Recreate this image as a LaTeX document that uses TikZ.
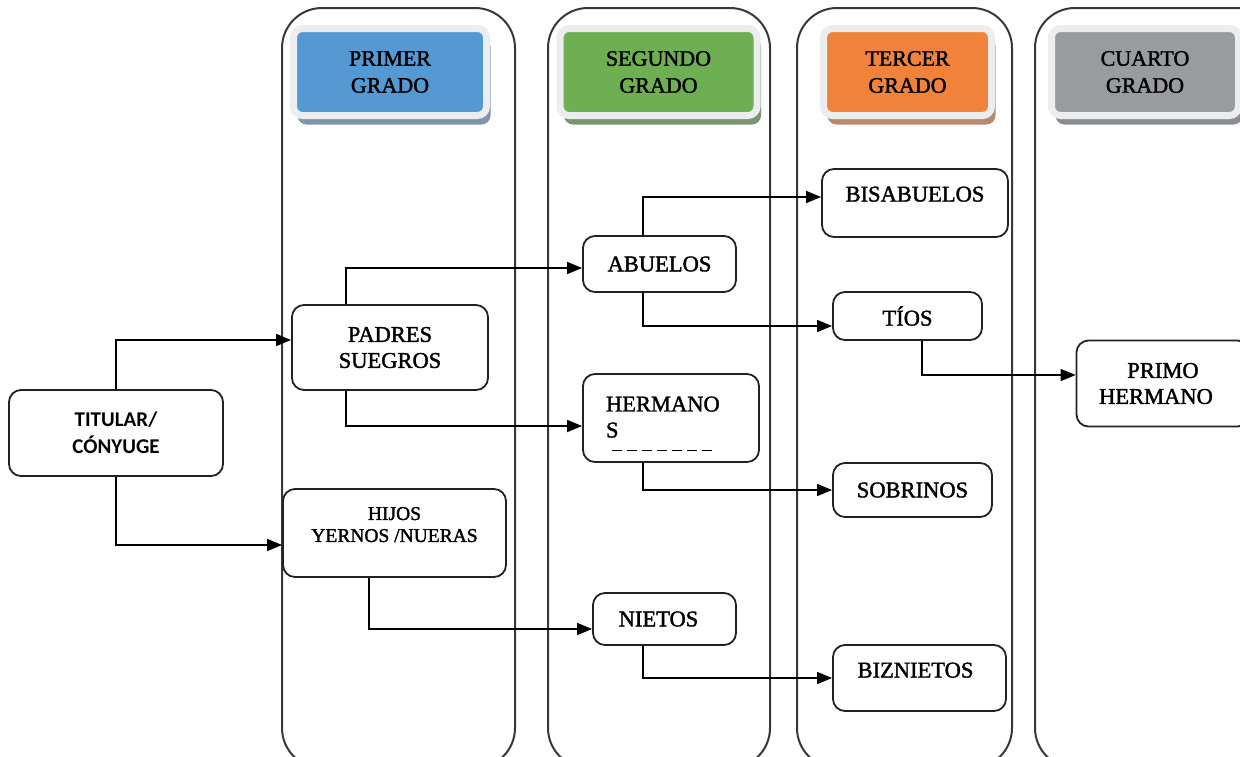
\documentclass[tikz,border=0pt]{standalone}
\usepackage{fontspec}
\setmainfont{Liberation Serif}
\newfontfamily\heavyserif{Liberation Serif}[FakeBold=1.6]
\newfontfamily\carlito{Carlito}
\usetikzlibrary{arrows.meta,shadows,calc}
\definecolor{hblue}{HTML}{5499D3}
\definecolor{hgreen}{HTML}{6DAF52}
\definecolor{horange}{HTML}{F0823C}
\definecolor{hgray}{HTML}{999B9E}
\definecolor{sblue}{HTML}{8294AA}
\definecolor{sgreen}{HTML}{7C9470}
\definecolor{sorange}{HTML}{B88A6E}
\definecolor{sgray}{HTML}{8C8D90}
\definecolor{hframe}{HTML}{ECEDEF}
\definecolor{ink}{HTML}{222222}
\begin{document}
\begin{tikzpicture}[x=1pt,y=-1pt,
  col/.style={draw=ink!90, line width=2pt, rounded corners=40pt},
  hdr/.style={draw=hframe, line width=7pt, rounded corners=9pt, minimum width=193pt, minimum height=87pt,
    align=center, inner sep=0pt, font=\heavyserif\fontsize{22}{27}\selectfont},
  box/.style={draw=ink, line width=1.8pt, rounded corners=12pt, fill=white, align=center,
    inner sep=0pt, font=\heavyserif\fontsize{22.5}{26}\selectfont},
  arr/.style={line width=1.5pt, draw=black, -{Triangle[length=15pt,width=12pt]}}]
\useasboundingbox (0,0) rectangle (1240,756);
\clip (0,0) rectangle (1240,756);
% columns
\draw[col] (282,8) rectangle (515,768);
\draw[col] (548,8) rectangle (770,768);
\draw[col] (797,8) rectangle (1012,768);
\draw[col] (1035,8) rectangle (1290,768);
% headers
\node[hdr, fill=hblue, drop shadow={opacity=1, fill=sblue, shadow xshift=4pt, shadow yshift=-9pt}] (h1) at (390,72) {PRIMER\\GRADO};
\node[hdr, fill=hgreen, minimum width=197pt, drop shadow={opacity=1, fill=sgreen, shadow xshift=4pt, shadow yshift=-9pt}] (h2) at (658.5,72) {SEGUNDO\\GRADO};
\node[hdr, fill=horange, minimum width=168pt, drop shadow={opacity=1, fill=sorange, shadow xshift=4pt, shadow yshift=-9pt}] (h3) at (907.5,72) {TERCER\\GRADO};
\node[hdr, fill=hgray, minimum width=187pt, drop shadow={opacity=1, fill=sgray, shadow xshift=4pt, shadow yshift=-9pt}] (h4) at (1145,72) {CUARTO\\GRADO};
% boxes
\node[box, font=\carlito\bfseries\fontsize{21}{27}\selectfont, minimum width=214pt, minimum height=86pt] (tit) at (116,433) {TITULAR/\\CÓNYUGE};
\node[box, minimum width=196pt, minimum height=85pt] (pad) at (390,347.5) {PADRES\\SUEGROS};
\node[box, font=\heavyserif\fontsize{19.5}{22}\selectfont, minimum width=223pt, minimum height=88pt, text depth=17pt] (hij) at (394.5,533) {HIJOS\\YERNOS /NUERAS};
\node[box, minimum width=153pt, minimum height=56pt] (abu) at (659.5,264) {ABUELOS};
\node[box, minimum width=176pt, minimum height=88pt, text width=130pt, align=left, text depth=28pt] (her) at (671,418) {HERMANO\\S};
\node[box, minimum width=143pt, minimum height=52pt] (nie) at (664.5,619) {NIETOS\hspace*{12pt}};
\node[box, minimum width=186pt, minimum height=68pt, text height=16pt, text depth=19pt] (bis) at (915,203) {BISABUELOS};
\node[box, minimum width=149pt, minimum height=48pt] (tio) at (907.5,316) {TÍOS};
\node[box, minimum width=159pt, minimum height=54pt] (sob) at (912.5,490) {SOBRINOS};
\node[box, minimum width=173pt, minimum height=66pt, text height=16pt, text depth=17pt] (biz) at (919.5,678) {BIZNIETOS\hspace*{8pt}};
\node[box, minimum width=173pt, minimum height=86pt] (pri) at (1163,383.5) {PRIMO\\HERMANO\hspace*{14pt}};
% remnant dashes in HERMANOS box
\draw[line width=1pt, dash pattern=on 10pt off 5pt] ([xshift=-59pt,yshift=-32pt]her.center) -- ([xshift=44pt,yshift=-32pt]her.center);
% connectors
\draw[arr] (tit.north) |- ([yshift=7.5pt]pad.west);
\draw[arr] (tit.south) |- ([yshift=-12pt]hij.west);
\draw[arr] ([xshift=-44pt]pad.north) |- ([yshift=-4pt]abu.west);
\draw[arr] ([xshift=-44pt]pad.south) |- ([yshift=-8pt]her.west);
\draw[arr] ([xshift=-16.5pt]abu.north) |- ([yshift=6pt]bis.west);
\draw[arr] ([xshift=-16.5pt]abu.south) |- ([yshift=-10pt]tio.west);
\draw[arr] ([xshift=14.5pt]tio.south) |- ([yshift=8.5pt]pri.west);
\draw[arr] ([xshift=-28pt]her.south) |- (sob.west);
\draw[arr] ([xshift=-25.5pt]hij.south) |- ([yshift=-10pt]nie.west);
\draw[arr] ([xshift=-21.5pt]nie.south) |- (biz.west);
\end{tikzpicture}
\end{document}
